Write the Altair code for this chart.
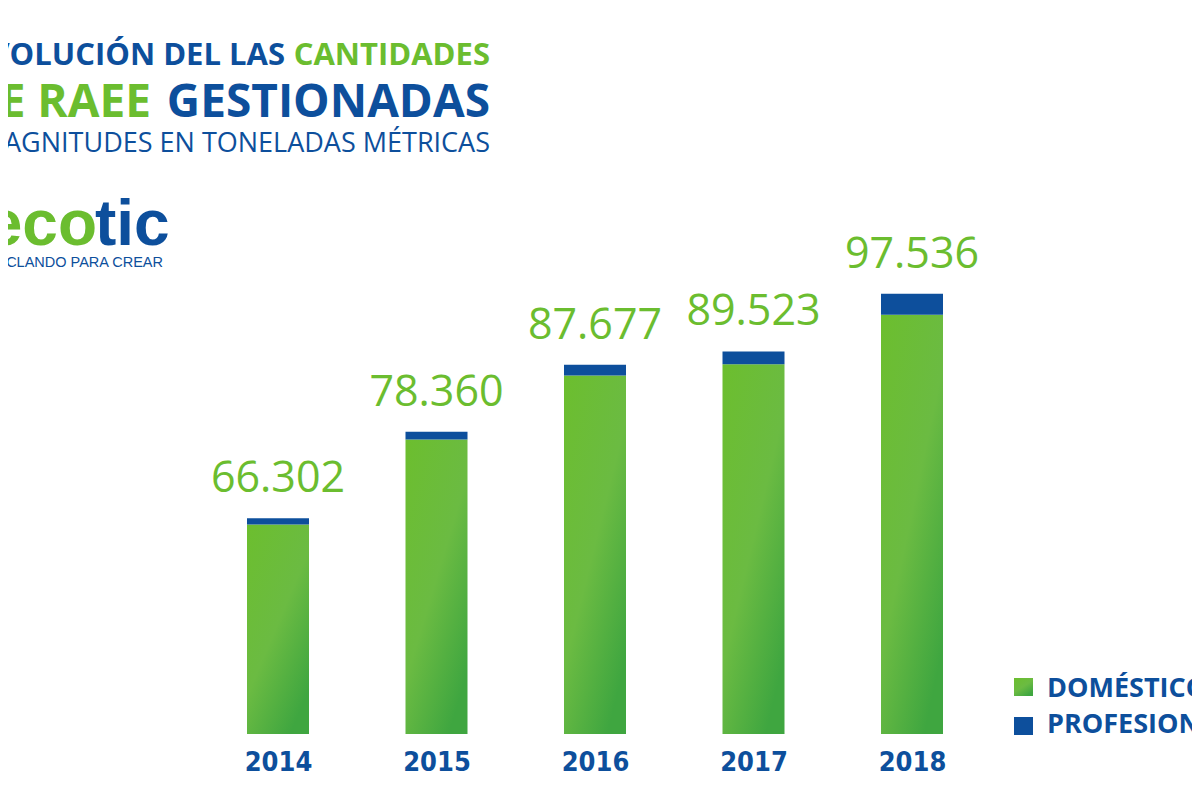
import altair as alt
import pandas as pd

# ---- data ----
years = ["2014", "2015", "2016", "2017", "2018"]
totals = [66302, 78360, 87677, 89523, 97536]
profesional = [850, 1100, 1500, 1800, 2900]
domestico = [t - p for t, p in zip(totals, profesional)]
labels = [f"{t:,}".replace(",", ".") for t in totals]
series = ["DOMÉSTICO", "PROFESIONAL"]

GREEN = "#6bbd2f"
BLUE = "#0d4f9c"
Y_MIN = 36300
Y_MAX = 137300

df = pd.DataFrame({"year": years, "dom": domestico, "total": totals, "label": labels})

W, H = 1184, 726

xs = alt.Scale(type="point", domain=years, range=[270, 904], padding=0)
ys = alt.Scale(domain=[Y_MIN, Y_MAX], range=[H, 0], nice=False, zero=False)

grad = alt.Gradient(
    gradient="linear",
    x1=0, y1=0, x2=0.7, y2=1,
    stops=[
        alt.GradientStop(offset=0, color="#6cbe2e"),
        alt.GradientStop(offset=0.55, color="#6bbb42"),
        alt.GradientStop(offset=1, color="#3fa640"),
    ],
)

base = alt.Chart(df)

dom_bars = base.mark_bar(fill=grad, size=62).encode(
    x=alt.X("year:O", scale=xs,
            axis=alt.Axis(title=None, domain=False, ticks=False, labelAngle=0,
                          labelFont="DejaVu Sans Condensed, Roboto, sans-serif",
                          labelFontWeight="bold",
                          labelFontSize=27, labelColor=BLUE, labelPadding=15)),
    y=alt.Y("dom:Q", scale=ys, axis=None),
    y2=alt.datum(Y_MIN),
)

prof_bars = base.mark_bar(color=BLUE, size=62).encode(
    x=alt.X("year:O", scale=xs),
    y=alt.Y("total:Q", scale=ys),
    y2="dom:Q",
)

value_labels = base.mark_text(
    font="Open Sans", fontSize=43, color=GREEN, baseline="alphabetic", dy=-26
).encode(
    x=alt.X("year:O", scale=xs),
    y=alt.Y("total:Q", scale=ys),
    text="label:N",
)


def txt(t, x, y, size, color, weight="normal", align="left", font="Open Sans"):
    return alt.Chart(pd.DataFrame({"t": [t]})).mark_text(
        font=font, fontSize=size, fontWeight=weight, color=color,
        align=align, baseline="alphabetic",
    ).encode(x=alt.value(x), y=alt.value(y), text="t:N")


titles = [
    txt("EVOLUCIÓN DEL LAS", 277, 57, 31, BLUE, "bold", "right"),
    txt("CANTIDADES", 482, 57, 31, GREEN, "bold", "right"),
    txt("DE RAEE", 143, 109, 46, GREEN, "bold", "right"),
    txt("GESTIONADAS", 482, 109, 46, BLUE, "bold", "right"),
    txt("MAGNITUDES EN TONELADAS MÉTRICAS", 482, 144, 27, BLUE, "normal", "right"),
    txt("eco", 89, 237, 64, GREEN, "bold", "right", "Liberation Sans"),
    txt("tic", 87, 237, 64, BLUE, "bold", "left", "Liberation Sans"),
    txt("RECICLANDO PARA CREAR", 155, 259, 14.5, BLUE, "normal", "right", "Liberation Sans"),
]


def swatch(fill, y0):
    return alt.Chart(pd.DataFrame({"s": [0]})).mark_rect(fill=fill).encode(
        x=alt.value(1006), x2=alt.value(1025), y=alt.value(y0), y2=alt.value(y0 + 18)
    )


legend = [
    swatch(grad, 670),
    swatch(BLUE, 709),
    txt(series[0], 1039, 689, 27, BLUE, "bold", "left"),
    txt(series[1], 1039, 725, 27, BLUE, "bold", "left"),
]

chart = alt.layer(dom_bars, prof_bars, value_labels, *titles, *legend).properties(
    width=W, height=H,
    autosize=alt.AutoSizeParams(type="none"),
    padding={"left": 0, "top": 0, "right": 0, "bottom": 58},
).configure(background="white").configure_view(stroke=None)

chart.save("out.html", embed_options={"renderer": "svg", "actions": False})
